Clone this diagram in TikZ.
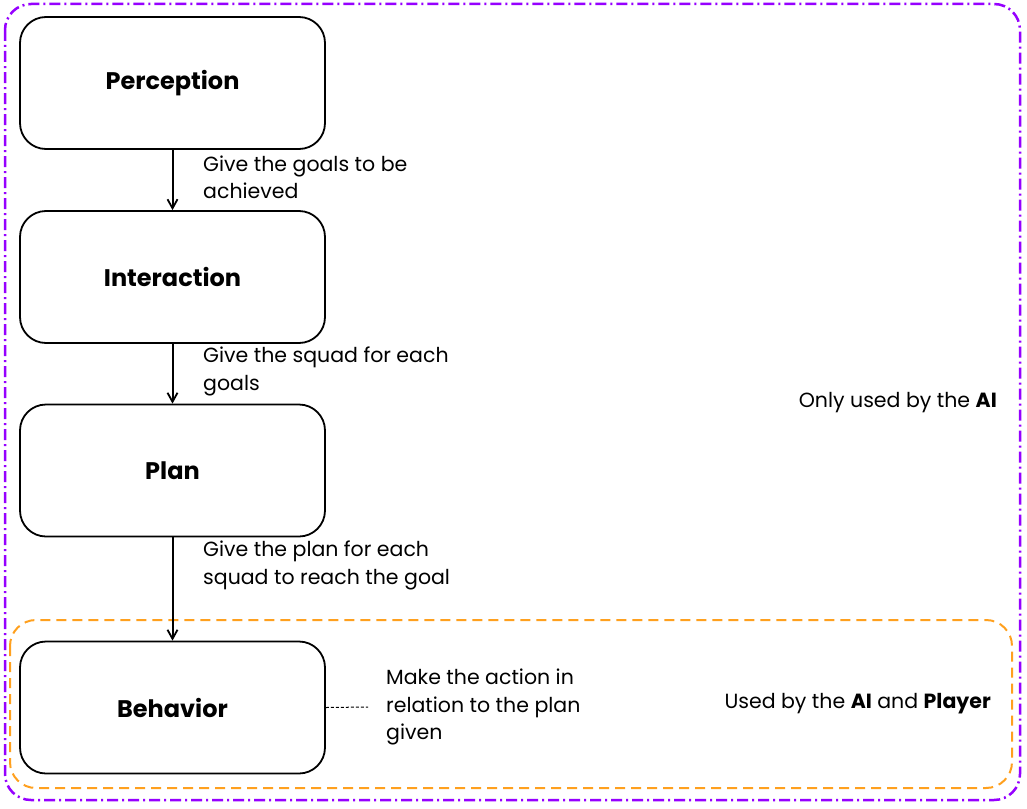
\documentclass[tikz,border=0pt]{standalone}
\usepackage{fontspec}
\setmainfont{Poppins}
\usetikzlibrary{arrows.meta}
\definecolor{violetline}{RGB}{150,0,255}
\definecolor{orangeline}{RGB}{255,160,30}
\begin{document}
\begin{tikzpicture}[x=1pt,y=-1pt,
  stagebox/.style={draw=black,line width=1.8pt,rounded corners=26pt,minimum width=305pt,minimum height=132pt,font=\fontsize{24}{28}\selectfont\bfseries,inner sep=0pt},
  flowarrow/.style={draw=black,line width=2pt,-{Straight Barb[length=9pt,width=10pt,line width=1.8pt]}},
  note/.style={align=left,anchor=west,inner sep=0pt,font=\fontsize{20.5}{27.5}\selectfont},
  zonelabel/.style={anchor=east,inner sep=0pt,font=\fontsize{20.5}{27.5}\selectfont}
]
\useasboundingbox (0,0) rectangle (1027,808);
\fill[white] (0,0) rectangle (1027,808);
% zones
\draw[violetline,line width=2.5pt,rounded corners=26pt,dash pattern=on 11pt off 4pt on 2pt off 4pt] (5,4) rectangle (1020,800);
\draw[orangeline,line width=2pt,rounded corners=26pt,dash pattern=on 10pt off 6pt] (10,620) rectangle (1012,788);
% stages
\node[stagebox] (perc) at (172.5,83) {Perception};
\node[stagebox] (inter) at (172.5,277) {Interaction};
\node[stagebox] (plan) at (172.5,470.5) {Plan};
\node[stagebox] (behav) at (172.5,707.5) {Behavior};
% arrows
\draw[flowarrow] (perc.south) -- (inter.north);
\draw[flowarrow] (inter.south) -- (plan.north);
\draw[flowarrow] (plan.south) -- (behav.north);
% notes
\node[note] (n1) at (203,177.5) {Give the goals to be\\achieved};
\node[note] (n2) at (203,371.5) {Give the squad for each\\goals};
\node[note] (n3) at (203,565.5) {Give the plan for each\\squad to reach the goal};
\node[note] (n4) at (386,707) {Make the action in\\relation to the plan\\given};
\draw[black,line width=1pt,dash pattern=on 3pt off 2pt] (behav.east) -- (n4.west -| 368,0);
% zone labels
\node[zonelabel] (z1) at (997,403) {Only used by the \textbf{AI}};
\node[zonelabel] (z2) at (991,704) {Used by the \textbf{AI} and \textbf{Player}};
\end{tikzpicture}
\end{document}
